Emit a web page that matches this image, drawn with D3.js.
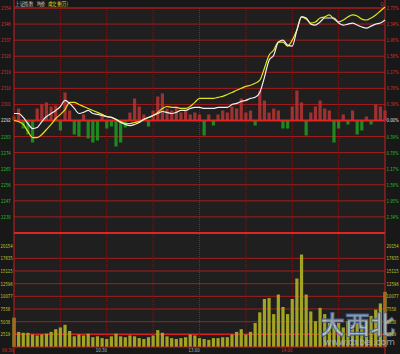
<!DOCTYPE html>
<html>
<head>
<meta charset="utf-8">
<script src="https://cdn.jsdelivr.net/npm/d3@7/dist/d3.min.js"></script>
<style>
  html, body { margin: 0; padding: 0; background: #181818; }
  svg { display: block; }
  text { font-family: "DejaVu Sans Condensed", "Liberation Sans", sans-serif; }
</style>
</head>
<body>
<div id="chart"></div>
<script>
// one sample every 3 minutes, 09:30 .. 15:00 (81 samples)
const stepMinutes = 3;
const basePrice = 2292;

const indexLine = [2295.9, 2295.9, 2293.7, 2290.3, 2287.5, 2288.1, 2291.4, 2294.2, 2295.9, 2297.6,
  2299.8, 2303.2, 2301.5, 2298.7, 2295.9, 2296.5, 2297.6, 2295.9, 2295.4, 2294.8,
  2294.2, 2293.7, 2292.6, 2290.9, 2289.8, 2289.2, 2289.8, 2290.9, 2292.6, 2293.7,
  2294.8, 2295.9, 2297.0, 2296.5, 2295.9, 2296.5, 2297.6, 2297.6, 2298.7, 2299.3,
  2299.3, 2298.7, 2298.7, 2298.7, 2299.3, 2299.3, 2299.3, 2300.9, 2301.5, 2302.6,
  2303.2, 2304.3, 2304.9, 2307.6, 2316.0, 2325.5, 2328.3, 2335.6, 2336.7, 2333.9,
  2333.4, 2342.3, 2349.6, 2349.0, 2345.6, 2345.1, 2346.8, 2349.0, 2349.0, 2349.0,
  2346.2, 2345.1, 2345.6, 2346.2, 2345.1, 2344.0, 2343.4, 2344.5, 2345.6, 2346.2,
  2347.9];

const avgLine = [2292.0, 2291.4, 2289.8, 2285.9, 2282.5, 2282.5, 2284.2, 2287.0, 2289.8, 2293.1,
  2295.4, 2298.1, 2302.1, 2302.1, 2300.9, 2299.8, 2298.7, 2297.6, 2296.5, 2295.4,
  2294.2, 2293.7, 2292.6, 2291.4, 2290.3, 2290.3, 2290.9, 2291.4, 2292.6, 2293.7,
  2294.8, 2296.5, 2298.7, 2299.8, 2299.3, 2299.3, 2298.7, 2298.7, 2299.8, 2302.1,
  2304.3, 2304.3, 2304.3, 2304.3, 2304.9, 2305.4, 2306.5, 2307.6, 2308.8, 2309.9,
  2311.0, 2311.6, 2312.7, 2314.4, 2321.1, 2328.3, 2331.1, 2335.6, 2335.6, 2333.4,
  2336.7, 2342.3, 2349.6, 2348.4, 2346.2, 2346.8, 2349.0, 2349.6, 2350.7, 2348.4,
  2346.8, 2347.9, 2349.6, 2350.7, 2350.1, 2348.4, 2347.9, 2349.0, 2350.7, 2352.9,
  2355.1];

// buy / sell strength bars around the zero line
const strength = [4, 12, -8, -14, -22, 12, 16, 18, 14, 15,
  -10, 28, 10, -14, -16, 6, -18, -22, -20, 5,
  -8, -6, -26, -22, -7, 8, 22, 14, 6, -6,
  10, 24, 27, 12, 10, 14, 8, 10, 6, 8,
  6, -15, 6, -5, 6, 10, 8, 14, 12, 22,
  8, 10, -5, 30, 20, 8, 12, 10, -8, -8,
  14, 30, 18, -15, 8, 14, 20, 12, 10, -22,
  -8, 6, -4, 10, -14, -10, 4, -4, 16, 14,
  10];

const volumes = [5834, 3006, 2829, 2829, 2475, 2298, 2475, 2652, 3006, 3536,
  3890, 4420, 3182, 2122, 2475, 2298, 2652, 1945, 2122, 1768,
  1591, 2122, 2652, 2122, 1945, 2298, 2122, 1768, 1591, 1945,
  2298, 3359, 2829, 2122, 1768, 1591, 1768, 1945, 2475, 2298,
  1768, 1591, 1414, 1768, 1768, 1945, 1945, 2475, 3006, 3536,
  2475, 3006, 4774, 6895, 9547, 9724, 6542, 10431, 7956, 6542,
  9547, 13614, 18387, 10431, 7072, 5127, 7779, 6542, 4774, 4420,
  4774, 3890, 5127, 4420, 4774, 4420, 5127, 6188, 7426, 8663,
  10962];

const pctLevels = [2.73, 2.34, 1.95, 1.56, 1.17, 0.78, 0.39, 0, -0.39, -0.78, -1.17, -1.56, -1.95, -2.34];
const priceLabels = ["2354", "2346", "2337", "2328", "2319", "2310", "2301", "2292",
  "2283", "2274", "2265", "2256", "2247", "2238"];
const pctLabels = ["2.73%", "2.34%", "1.95%", "1.56%", "1.17%", "0.78%", "0.39%", "0.00%",
  "0.39%", "0.78%", "1.17%", "1.56%", "1.95%", "2.34%"];
const volTicks = [20154, 17635, 15115, 12596, 10077, 7558, 5038, 2519];
const volMax = 22673;
const timeTicks = [0, 60, 120, 180];
const timeLabels = ["09:30", "10:30", "13:00", "14:00"];

const width = 400;
const height = 354;
const plot = { left: 14, right: 385, top: 8, mid: 120.5, volTop: 233, bottom: 347 };

const svg = d3.select("#chart")
  .append("svg")
  .attr("width", width)
  .attr("height", height);

svg.append("rect")
  .attr("width", width).attr("height", height)
  .attr("fill", "#181818");

svg.append("rect")
  .attr("x", plot.left).attr("y", plot.top)
  .attr("width", plot.right - plot.left)
  .attr("height", plot.bottom - plot.top)
  .attr("fill", "#1f1f1f");

const x = d3.scaleLinear().domain([0, 240]).range([plot.left, plot.right]);

const span = 0.0273;
const yPrice = d3.scaleLinear()
  .domain([basePrice * (1 - span * (plot.volTop - plot.mid) / (plot.mid - plot.top)), basePrice * (1 + span)])
  .range([plot.volTop, plot.top]);

const yPower = d3.scaleLinear().domain([-40, 40]).range([plot.mid + 40, plot.mid - 40]);

const yVol = d3.scaleLinear().domain([0, volMax]).range([plot.bottom, plot.volTop]);

const pctY = p => yPrice(basePrice * (1 + p / 100));

// grid
const grid = svg.append("g");
pctLevels.forEach(p => {
  if (p === 0) return;
  grid.append("line")
    .attr("x1", plot.left).attr("x2", plot.right)
    .attr("y1", pctY(p)).attr("y2", pctY(p))
    .attr("stroke", "#a81c1c").attr("stroke-width", 1);
});
volTicks.slice(1).forEach(v => {
  grid.append("line")
    .attr("x1", plot.left).attr("x2", plot.right)
    .attr("y1", yVol(v)).attr("y2", yVol(v))
    .attr("stroke", v === 2519 ? "#d42222" : "#a81c1c")
    .attr("stroke-width", v === 2519 ? 1.5 : 1);
});
d3.range(30, 240, 30).forEach(m => {
  grid.append("line")
    .attr("x1", x(m)).attr("x2", x(m))
    .attr("y1", plot.top).attr("y2", plot.bottom)
    .attr("stroke", m === 120 ? "#9a2020" : "#7a1a1a")
    .attr("stroke-width", 1)
    .attr("stroke-dasharray", "1,1");
});

// strength bars
const barW = 3.2;
svg.append("g")
  .selectAll("rect")
  .data(strength)
  .join("rect")
  .attr("x", (d, i) => x(i * stepMinutes) - barW / 2)
  .attr("y", d => d >= 0 ? yPower(d) : yPower(0))
  .attr("width", barW)
  .attr("height", d => Math.abs(yPower(d) - yPower(0)))
  .attr("fill", d => d >= 0 ? "#b83434" : "#1e9c1e")
  .attr("fill-opacity", 0.85);

// volume bars
svg.append("g")
  .selectAll("rect")
  .data(volumes)
  .join("rect")
  .attr("x", (d, i) => x(i * stepMinutes) - barW / 2)
  .attr("y", d => yVol(d))
  .attr("width", barW)
  .attr("height", d => yVol(0) - yVol(d))
  .attr("fill", "#a3a324");

// frame lines
svg.append("line")
  .attr("x1", plot.left).attr("x2", plot.right)
  .attr("y1", plot.top).attr("y2", plot.top)
  .attr("stroke", "#a81c1c");
svg.append("line")
  .attr("x1", plot.left).attr("x2", plot.right)
  .attr("y1", yPrice(basePrice)).attr("y2", yPrice(basePrice))
  .attr("stroke", "#e02424").attr("stroke-width", 2);
svg.append("line")
  .attr("x1", plot.left).attr("x2", plot.right)
  .attr("y1", plot.volTop).attr("y2", plot.volTop)
  .attr("stroke", "#e02424").attr("stroke-width", 2);
svg.append("line")
  .attr("x1", plot.left).attr("x2", plot.right)
  .attr("y1", plot.bottom).attr("y2", plot.bottom)
  .attr("stroke", "#c42020").attr("stroke-width", 1);
[plot.left, plot.right].forEach(px => {
  svg.append("line")
    .attr("x1", px).attr("x2", px)
    .attr("y1", 0).attr("y2", height)
    .attr("stroke", "#c42020").attr("stroke-width", 1);
});

// price lines
const line = d3.line()
  .x((d, i) => x(i * stepMinutes))
  .y(d => yPrice(d))
  .curve(d3.curveMonotoneX);

svg.append("path")
  .datum(avgLine)
  .attr("fill", "none")
  .attr("stroke", "#e4e41c")
  .attr("stroke-width", 1.2)
  .attr("d", line);

svg.append("path")
  .datum(indexLine)
  .attr("fill", "none")
  .attr("stroke", "#eeeeee")
  .attr("stroke-width", 1.2)
  .attr("d", line);

// watermark (drawn under the axis text)
svg.append("text")
  .attr("x", 395).attr("y", 334)
  .attr("text-anchor", "end")
  .attr("font-size", 25)
  .attr("font-weight", "bold")
  .style("font-family", "'Noto Sans CJK SC', sans-serif")
  .attr("fill", "#c4d4e6")
  .attr("fill-opacity", 0.7)
  .attr("stroke", "#3c5c8c")
  .attr("stroke-width", 0.8)
  .text("大西北");
svg.append("text")
  .attr("x", 395).attr("y", 345)
  .attr("text-anchor", "end")
  .attr("font-size", 9)
  .style("font-family", "'DejaVu Sans', sans-serif")
  .attr("fill", "#a8bcd4")
  .attr("fill-opacity", 0.8)
  .text("www.dxbei.com");

// axis labels, squeezed horizontally to fit the narrow side strips
const labelColor = p => p > 0 ? "#d83030" : (p < 0 ? "#22c022" : "#e0e0e0");
const axisText = svg.append("g").attr("font-size", 5.5);
function sideLabel(px, py, txt, color) {
  axisText.append("text")
    .attr("transform", `translate(${px},${py}) scale(0.78,1)`)
    .attr("dy", "0.35em")
    .attr("fill", color)
    .text(txt);
}
pctLevels.forEach((p, i) => {
  sideLabel(1, pctY(p), priceLabels[i], labelColor(p));
  sideLabel(386.5, pctY(p), pctLabels[i], labelColor(p));
});
volTicks.forEach(v => {
  sideLabel(0.5, yVol(v), v, "#c8c828");
  sideLabel(386.5, yVol(v), v, "#c8c828");
});
timeTicks.forEach((m, i) => {
  sideLabel(m === 0 ? 2 : x(m) - 11, 350, timeLabels[i], i === 0 || i === 3 ? "#d83030" : "#bbbbbb");
});

// header
const header = svg.append("g")
  .attr("font-size", 5.5)
  .style("font-family", "'Noto Sans CJK SC', sans-serif");
header.append("text").attr("x", 15).attr("y", 6)
  .attr("textLength", 18).attr("lengthAdjust", "spacingAndGlyphs")
  .attr("fill", "#cccccc").text("上证指数");
header.append("text").attr("x", 37).attr("y", 6)
  .attr("textLength", 8).attr("lengthAdjust", "spacingAndGlyphs")
  .attr("fill", "#eeeeee").text("均价");
header.append("text").attr("x", 48).attr("y", 6)
  .attr("textLength", 20).attr("lengthAdjust", "spacingAndGlyphs")
  .attr("fill", "#e0e020").text("成交量(万)");
svg.append("text")
  .attr("x", 382).attr("y", 5.5)
  .attr("text-anchor", "middle")
  .attr("font-size", 5)
  .attr("fill", "#d83030")
  .text("Q");
</script>
</body>
</html>
